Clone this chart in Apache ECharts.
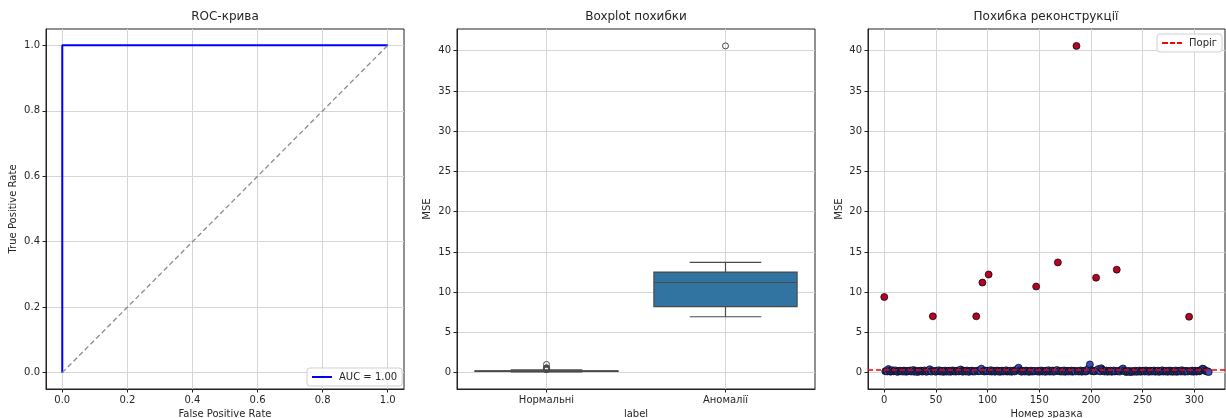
<!DOCTYPE html>
<html><head><meta charset="utf-8">
<script src="https://cdn.jsdelivr.net/npm/echarts@6/dist/echarts.min.js"></script>
<style>html,body{margin:0;padding:0;background:#fff}#c{width:1226px;height:418px}</style>
</head><body><div id="c"></div>
<script>
// ---------- data ----------
const rocFpr = [0, 0, 1];
const rocTpr = [0, 1, 1];
const aucLabel = 'AUC = 1.00';
const diagX = [0, 1];
const diagY = [0, 1];
const rocTicks = [0, 0.2, 0.4, 0.6, 0.8, 1.0];

const boxCategories = ['Нормальні', 'Аномалії'];
const mseTicks = [0, 5, 10, 15, 20, 25, 30, 35, 40];
const sampleTicks = [0, 50, 100, 150, 200, 250, 300];

const anomalyIdx = [0, 47, 89, 95, 101, 147, 168, 186, 205, 225, 295];
const anomalyMse = [9.4, 7.0, 7.0, 11.2, 12.2, 10.7, 13.7, 40.6, 11.8, 12.8, 6.95];
const normalMse = [
  0.18,0.22,0.15,0.45,0.25,0.12,0.20,0.30,0.16,0.22,
  0.28,0.14,0.10,0.19,0.24,0.17,0.21,0.13,0.26,0.18,
  0.11,0.23,0.16,0.20,0.27,0.14,0.19,0.32,0.12,0.25,
  0.17,0.09,0.21,0.15,0.24,0.18,0.13,0.20,0.28,0.16,
  0.11,0.22,0.19,0.42,0.17,0.14,
  0.21,0.16,0.12,0.25,0.19,0.30,0.14,0.18,0.23,0.10,
  0.17,0.26,0.13,0.20,0.15,0.24,0.11,0.19,0.28,0.16,
  0.22,0.13,0.18,0.25,0.15,0.21,0.40,0.17,0.12,0.23,
  0.19,0.14,0.27,0.16,0.10,0.22,0.18,0.25,0.13,0.20,
  0.15,
  0.24,0.17,0.28,0.21,0.50,
  0.19,0.14,0.26,0.18,0.22,
  0.16,0.31,0.13,0.20,0.24,0.12,0.18,0.27,0.15,0.21,
  0.10,0.19,0.25,0.14,0.22,0.17,0.29,0.13,0.20,0.16,
  0.24,0.11,0.18,0.26,0.15,0.21,0.34,0.45,0.62,0.28,
  0.17,0.12,0.23,0.19,0.14,0.26,0.16,0.21,0.10,0.18,
  0.25,0.13,0.20,0.16,0.22,
  0.15,0.23,0.12,0.19,0.27,0.14,0.21,0.17,0.11,0.24,
  0.18,0.30,0.13,0.20,0.16,0.26,0.12,0.22,0.19,0.33,
  0.17,0.24,0.13,0.20,0.15,0.28,0.11,0.19,0.23,0.14,
  0.21,0.16,0.26,0.12,0.18,0.24,0.15,
  0.22,0.14,0.19,0.27,0.12,0.20,0.17,0.25,0.13,0.21,
  0.35,0.55,1.02,0.30,0.18,0.24,0.15,0.21,
  0.28,0.44,0.20,0.16,0.55,0.38,0.23,0.14,0.19,0.26,
  0.12,0.21,0.17,0.24,0.11,0.18,0.27,0.15,0.20,
  0.16,0.23,0.13,0.30,0.40,0.52,0.26,0.14,0.09,0.18,
  0.12,0.22,0.08,0.17,0.10,0.20,0.14,0.24,0.11,0.19,
  0.15,0.26,0.12,0.21,0.17,0.23,0.13,0.28,0.16,0.20,
  0.11,0.24,0.18,0.14,0.22,0.27,0.12,0.19,0.15,0.25,
  0.10,0.21,0.17,0.29,0.13,0.20,0.16,0.24,0.11,0.18,
  0.26,0.14,0.22,0.12,0.19,0.15,0.27,0.10,0.21,0.17,
  0.24,0.13,0.30,0.16,0.20,0.12,0.23,0.18,0.14,
  0.21,0.15,0.26,0.12,0.19,0.24,0.13,0.18,0.22,0.16,
  0.28,0.35,0.50,0.46,0.30,0.20,0.15,0.18,0.08
];
const threshold = 0.37;

// ---------- derived ----------
const FONT = 'DejaVu Sans';
const TXT = '#262626';
const BLUE_PT = '#3b4cc0', RED_PT = '#b40426';
const BOX_FILL = '#3274a1', BOX_LINE = '#4a4a4a';

function quantile(s, p) {
  const pos = (s.length - 1) * p, lo = Math.floor(pos), hi = Math.ceil(pos);
  return s[lo] + (s[hi] - s[lo]) * (pos - lo);
}
function boxStats(arr) {
  const s = arr.slice().sort((a, b) => a - b);
  const q1 = quantile(s, 0.25), med = quantile(s, 0.5), q3 = quantile(s, 0.75);
  const iqr = q3 - q1, lo = q1 - 1.5 * iqr, hi = q3 + 1.5 * iqr;
  const inside = s.filter(v => v >= lo && v <= hi);
  return { min: inside[0], max: inside[inside.length - 1], q1, med, q3, out: s.filter(v => v < lo || v > hi) };
}
const statsN = boxStats(normalMse), statsA = boxStats(anomalyMse);
const boxData = [
  [0, statsN.min, statsN.q1, statsN.med, statsN.q3, statsN.max],
  [1, statsA.min, statsA.q1, statsA.med, statsA.q3, statsA.max]
];
const outlierData = statsN.out.map(v => [0, v]).concat(statsA.out.map(v => [1, v]));

const scatterData = [];
{
  const total = normalMse.length + anomalyMse.length;
  let ni = 0;
  for (let i = 0; i < total; i++) {
    const k = anomalyIdx.indexOf(i);
    if (k >= 0) scatterData.push({ value: [i, anomalyMse[k]], itemStyle: { color: RED_PT } });
    else scatterData.push({ value: [i, normalMse[ni++]], itemStyle: { color: BLUE_PT } });
  }
}

const grids = [
  { left: 46, top: 29, width: 358, height: 360 },
  { left: 457, top: 29, width: 358, height: 360 },
  { left: 868, top: 29, width: 357, height: 360 }
].map(g => Object.assign(g, { show: true, borderColor: '#222', borderWidth: 1, backgroundColor: 'transparent', containLabel: false, outerBoundsMode: 'none' }));

function axisBase(ticks, fmt, gridIndex, extra) {
  return Object.assign({
    type: 'value', gridIndex,
    axisLine: { show: true, onZero: false, lineStyle: { color: '#222', width: 1 } },
    axisTick: { show: true, length: 3.5, lineStyle: { color: '#222', width: 1 }, customValues: ticks },
    axisLabel: { show: true, color: TXT, fontFamily: FONT, fontSize: 10, margin: 6, customValues: ticks, formatter: fmt, hideOverlap: false, showMinLabel: true, showMaxLabel: true },
    splitLine: { show: true, lineStyle: { color: '#d6d6d6', width: 1 } },
    nameLocation: 'middle',
    nameTextStyle: { color: TXT, fontFamily: FONT, fontSize: 10 }
  }, extra);
}

const fmt1 = v => v.toFixed(1);
const fmt0 = v => String(Math.round(v));
const legendBase = {
  orient: 'vertical', padding: [4, 5], itemWidth: 20, itemHeight: 2, itemGap: 0,
  backgroundColor: 'rgba(255,255,255,0.85)', borderColor: '#d0d0d0', borderWidth: 1, borderRadius: 3,
  textStyle: { fontSize: 10, color: TXT, fontFamily: FONT, padding: [0, 0, 0, 2] }
};

const option = {
  animation: false,
  backgroundColor: '#fff',
  textStyle: { fontFamily: FONT },
  title: [
    { text: 'ROC-крива', left: 225, top: 11, textAlign: 'center', padding: 0, textStyle: { fontSize: 12, fontWeight: 'normal', color: TXT, fontFamily: FONT } },
    { text: 'Boxplot похибки', left: 636, top: 11, textAlign: 'center', padding: 0, textStyle: { fontSize: 12, fontWeight: 'normal', color: TXT, fontFamily: FONT } },
    { text: 'Похибка реконструкції', left: 1046, top: 11, textAlign: 'center', padding: 0, textStyle: { fontSize: 12, fontWeight: 'normal', color: TXT, fontFamily: FONT } }
  ],
  legend: [
    Object.assign({}, legendBase, { data: [{ name: aucLabel, icon: 'rect' }], left: 307, top: 368 }),
    Object.assign({}, legendBase, { data: [{ name: 'Поріг', icon: 'path://M0,0h6v2h-6z M8,0h5v2h-5z M15,0h5v2h-5z' }], left: 1157, top: 34 })
  ],
  grid: grids,
  xAxis: [
    axisBase(rocTicks, fmt1, 0, { min: -0.05, max: 1.05, name: 'False Positive Rate', nameGap: 18 }),
    axisBase([0, 1], v => boxCategories[Math.round(v)], 1, { min: -0.5, max: 1.5, name: 'label', nameGap: 18 }),
    axisBase(sampleTicks, fmt0, 2, { min: -15.75, max: 329.75, name: 'Номер зразка', nameGap: 18 })
  ],
  yAxis: [
    axisBase(rocTicks, fmt1, 0, { min: -0.05, max: 1.05, name: 'True Positive Rate', nameGap: 28 }),
    axisBase(mseTicks, fmt0, 1, { min: -2.03, max: 42.7, name: 'MSE', nameGap: 25 }),
    axisBase(mseTicks, fmt0, 2, { min: -2.03, max: 42.7, name: 'MSE', nameGap: 24 })
  ],
  series: [
    { type: 'line', name: aucLabel, xAxisIndex: 0, yAxisIndex: 0, data: rocFpr.map((x, i) => [x, rocTpr[i]]),
      symbol: 'none', lineStyle: { color: '#0000ff', width: 2 }, itemStyle: { color: '#0000ff' }, z: 3 },
    { type: 'line', name: 'diag', xAxisIndex: 0, yAxisIndex: 0, data: diagX.map((x, i) => [x, diagY[i]]),
      symbol: 'none', lineStyle: { color: '#8c8c8c', width: 1.3, type: [5, 3] }, itemStyle: { color: '#8c8c8c' }, z: 4 },
    { type: 'custom', name: 'box', xAxisIndex: 1, yAxisIndex: 1, data: boxData,
      encode: { x: 0, y: [1, 2, 3, 4, 5] },
      renderItem: function (params, api) {
        const x = api.value(0);
        const pMin = api.coord([x, api.value(1)]), pQ1 = api.coord([x, api.value(2)]),
              pMed = api.coord([x, api.value(3)]), pQ3 = api.coord([x, api.value(4)]),
              pMax = api.coord([x, api.value(5)]);
        const hw = api.size([0.8, 0])[0] / 2, cw = hw / 2, cx = pMed[0];
        const ls = { stroke: BOX_LINE, lineWidth: 1.2 };
        return { type: 'group', children: [
          { type: 'line', shape: { x1: cx, y1: pQ1[1], x2: cx, y2: pMin[1] }, style: ls },
          { type: 'line', shape: { x1: cx, y1: pQ3[1], x2: cx, y2: pMax[1] }, style: ls },
          { type: 'line', shape: { x1: cx - cw, y1: pMin[1], x2: cx + cw, y2: pMin[1] }, style: ls },
          { type: 'line', shape: { x1: cx - cw, y1: pMax[1], x2: cx + cw, y2: pMax[1] }, style: ls },
          { type: 'rect', shape: { x: cx - hw, y: pQ3[1], width: 2 * hw, height: Math.max(pQ1[1] - pQ3[1], 0.5) },
            style: { fill: BOX_FILL, stroke: BOX_LINE, lineWidth: 1.2 } },
          { type: 'line', shape: { x1: cx - hw, y1: pMed[1], x2: cx + hw, y2: pMed[1] }, style: ls }
        ] };
      }, z: 3 },
    { type: 'scatter', name: 'outliers', xAxisIndex: 1, yAxisIndex: 1, data: outlierData, symbol: 'circle', symbolSize: 6,
      itemStyle: { color: 'rgba(0,0,0,0)', borderColor: BOX_LINE, borderWidth: 1, opacity: 1 }, z: 4 },
    { type: 'scatter', name: 'mse', xAxisIndex: 2, yAxisIndex: 2, data: scatterData, symbol: 'circle', symbolSize: 7,
      itemStyle: { borderColor: '#000', borderWidth: 0.7, opacity: 1 }, z: 3 },
    { type: 'line', name: 'Поріг', xAxisIndex: 2, yAxisIndex: 2, data: [], symbol: 'none',
      lineStyle: { color: '#ff0000', width: 1.5, type: [5, 3] }, itemStyle: { color: '#ff0000' },
      markLine: { silent: true, symbol: 'none', label: { show: false }, animation: false,
        lineStyle: { color: '#ff0000', width: 1.5, type: [5, 3] }, data: [{ yAxis: threshold }] }, z: 5 }
  ]
};

const chart = echarts.init(document.getElementById('c'), null, { renderer: 'canvas' });
chart.setOption(option);
</script>
</body></html>
